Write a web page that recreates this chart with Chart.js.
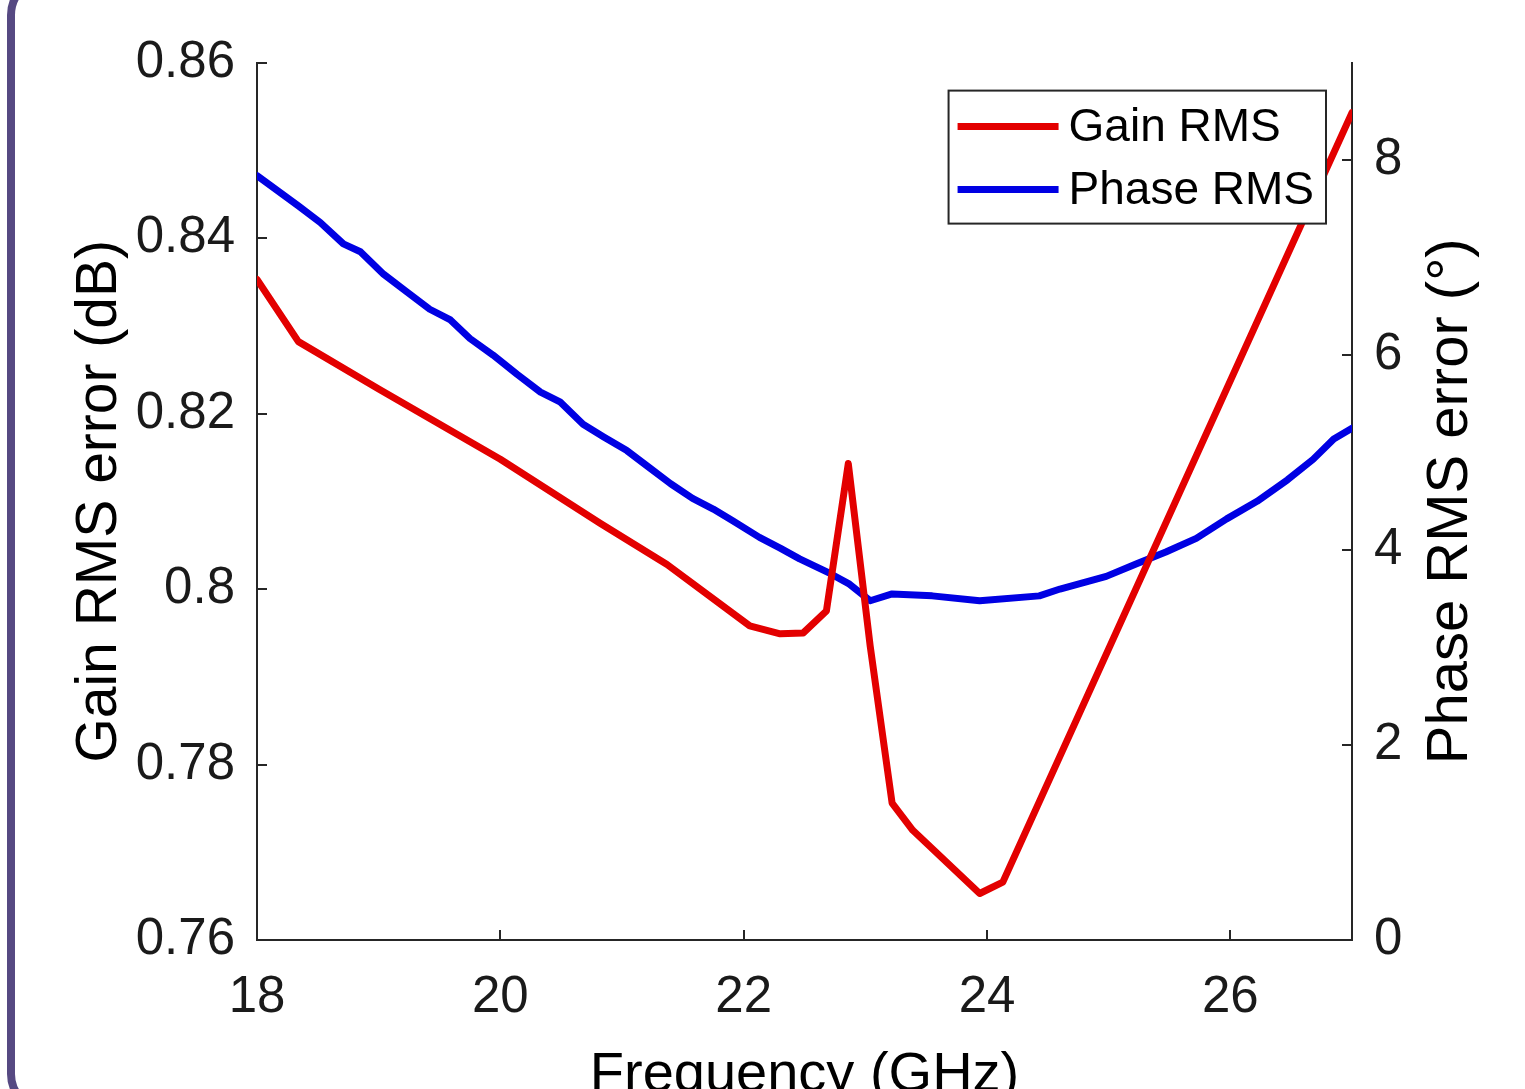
<!DOCTYPE html>
<html>
<head>
<meta charset="utf-8">
<script src="https://cdn.jsdelivr.net/npm/chart.js@4.4.0/dist/chart.umd.min.js"></script>
<style>
  html, body { margin: 0; padding: 0; background: #fff; overflow: hidden; }
  #wrap { position: absolute; left: 0; top: 0; width: 1525px; height: 1130px; }
  #frame { position: absolute; left: 7px; top: -25px; width: 1600px; height: 1123px;
           border: 8px solid #564982; border-radius: 40px; pointer-events: none; }
</style>
</head>
<body>
<div id="wrap"><canvas id="grafico"></canvas></div>
<div id="frame"></div>
<script>
// dados
var gainFreq = [18.00, 18.34, 19.00, 20.00, 20.82, 21.37, 22.05, 22.30, 22.49, 22.68, 22.86, 23.04, 23.22, 23.39, 23.94, 24.13, 27.00];
var gainRms  = [0.8353, 0.8282, 0.8228, 0.8148, 0.8075, 0.8028, 0.7958, 0.7949, 0.7950, 0.7975, 0.8143, 0.7935, 0.7756, 0.7725, 0.7653, 0.7666, 0.8543];

var phaseFreq = [18.00, 18.34, 18.52, 18.71, 18.85, 19.04, 19.23, 19.42, 19.59, 19.75, 19.94, 20.14, 20.33, 20.49, 20.68,
                 20.85, 21.04, 21.23, 21.40, 21.58, 21.75, 21.91, 22.13, 22.30, 22.46, 22.71, 22.87, 23.04, 23.22, 23.55,
                 23.94, 24.43, 24.60, 24.98, 25.23, 25.47, 25.72, 25.97, 26.22, 26.47, 26.68, 26.85, 27.00];
var phaseRms  = [7.84, 7.53, 7.36, 7.14, 7.06, 6.83, 6.65, 6.47, 6.36, 6.17, 6.00, 5.80, 5.62, 5.52, 5.29,
                 5.16, 5.02, 4.84, 4.68, 4.53, 4.42, 4.30, 4.13, 4.02, 3.91, 3.76, 3.65, 3.48, 3.55, 3.53,
                 3.48, 3.53, 3.60, 3.73, 3.86, 3.98, 4.12, 4.32, 4.50, 4.72, 4.93, 5.14, 5.25];

var seriesNames = ['Gain RMS', 'Phase RMS'];
var xTicks = [18, 20, 22, 24, 26];
var gainTicks = [0.76, 0.78, 0.80, 0.82, 0.84, 0.86];
var phaseTicks = [0, 2, 4, 6, 8];

var corTexto = '#1a1a1a';
Chart.defaults.font.family = "'Liberation Sans', Arial, sans-serif";
Chart.defaults.color = corTexto;

function pares(xs, ys) {
    return xs.map(function (x, i) { return { x: x, y: ys[i] }; });
}

// legenda com caixa e titulo do eixo direito (rotacao estilo MATLAB)
var extras = {
    id: 'extras',
    afterDatasetsDraw: function (chart) {
        var ctx = chart.ctx;
        var area = chart.chartArea;
        ctx.save();
        ctx.font = "46px 'Liberation Sans', Arial, sans-serif";
        var larguraTexto = 0;
        chart.data.datasets.forEach(function (ds) {
            larguraTexto = Math.max(larguraTexto, ctx.measureText(ds.label).width);
        });
        var w = 120 + larguraTexto + 12;
        var h = 133;
        var x = area.right - 26 - w;
        var y = area.top + 28;
        ctx.fillStyle = '#fff';
        ctx.fillRect(x, y, w, h);
        ctx.strokeStyle = '#262626';
        ctx.lineWidth = 2;
        ctx.strokeRect(x, y, w, h);
        chart.data.datasets.forEach(function (ds, i) {
            var ly = y + 36 + i * 63;
            ctx.strokeStyle = ds.borderColor;
            ctx.lineWidth = 7;
            ctx.beginPath();
            ctx.moveTo(x + 9, ly);
            ctx.lineTo(x + 110, ly);
            ctx.stroke();
            ctx.fillStyle = '#000';
            ctx.textAlign = 'left';
            ctx.textBaseline = 'middle';
            ctx.fillText(ds.label, x + 120, ly + 2);
        });
        ctx.restore();
    },
    afterDraw: function (chart) {
        var ctx = chart.ctx;
        var area = chart.chartArea;
        ctx.save();
        ctx.translate(area.right + 99, (area.top + area.bottom) / 2);
        ctx.rotate(-Math.PI / 2);
        ctx.font = "58px 'Liberation Sans', Arial, sans-serif";
        ctx.fillStyle = '#000';
        ctx.textAlign = 'center';
        ctx.textBaseline = 'middle';
        ctx.fillText('Phase RMS error (\u00B0)', 0, 0);
        ctx.restore();
    }
};

var fmt = function (v) { return String(Number(v.toFixed(2))); };

new Chart(document.getElementById('grafico'), {
    type: 'line',
    data: {
        datasets: [{
            label: seriesNames[0],
            data: pares(gainFreq, gainRms),
            borderColor: '#e30000',
            backgroundColor: '#e30000',
            borderWidth: 7,
            borderJoinStyle: 'round',
            borderCapStyle: 'round',
            pointRadius: 0,
            tension: 0,
            yAxisID: 'y'
        }, {
            label: seriesNames[1],
            data: pares(phaseFreq, phaseRms),
            borderColor: '#0000e3',
            backgroundColor: '#0000e3',
            borderWidth: 7,
            borderJoinStyle: 'round',
            borderCapStyle: 'round',
            pointRadius: 0,
            tension: 0,
            yAxisID: 'y2'
        }]
    },
    options: {
        responsive: true,
        maintainAspectRatio: false,
        animation: false,
        layout: { padding: { top: 60, left: 0, right: 0, bottom: 0 } },
        plugins: { legend: { display: false }, tooltip: { enabled: false } },
        scales: {
            x: {
                type: 'linear',
                min: 18, max: 27,
                afterBuildTicks: function (s) { s.ticks = xTicks.map(function (v) { return { value: v }; }); },
                afterFit: function (s) { s.height = 190; },
                ticks: { font: { size: 51 }, padding: 37, color: corTexto, maxRotation: 0, callback: fmt },
                grid: { drawOnChartArea: false, tickLength: -10, tickColor: '#262626', lineWidth: 2 },
                border: { color: '#262626', width: 2 },
                title: { display: true, text: 'Frequency (GHz)', font: { size: 56 }, color: '#000', padding: { top: 0, bottom: 21 } }
            },
            y: {
                position: 'left',
                min: 0.76, max: 0.86,
                afterBuildTicks: function (s) { s.ticks = gainTicks.map(function (v) { return { value: v }; }); },
                afterFit: function (s) { s.width = 257; },
                ticks: { font: { size: 51 }, padding: 32, color: corTexto, callback: fmt },
                grid: { drawOnChartArea: false, tickLength: -10, tickColor: '#262626', lineWidth: 2 },
                border: { color: '#262626', width: 2 },
                title: { display: true, text: 'Gain RMS error (dB)', font: { size: 57 }, color: '#000', padding: { top: 66, bottom: 0 } }
            },
            y2: {
                position: 'right',
                min: 0, max: 9,
                afterBuildTicks: function (s) { s.ticks = phaseTicks.map(function (v) { return { value: v }; }); },
                afterFit: function (s) { s.width = 173; },
                ticks: { font: { size: 51 }, padding: 32, color: corTexto, callback: fmt },
                grid: { drawOnChartArea: false, tickLength: -10, tickColor: '#262626', lineWidth: 2 },
                border: { color: '#262626', width: 2 },
                title: { display: false }
            }
        }
    },
    plugins: [extras]
});
</script>
</body>
</html>
